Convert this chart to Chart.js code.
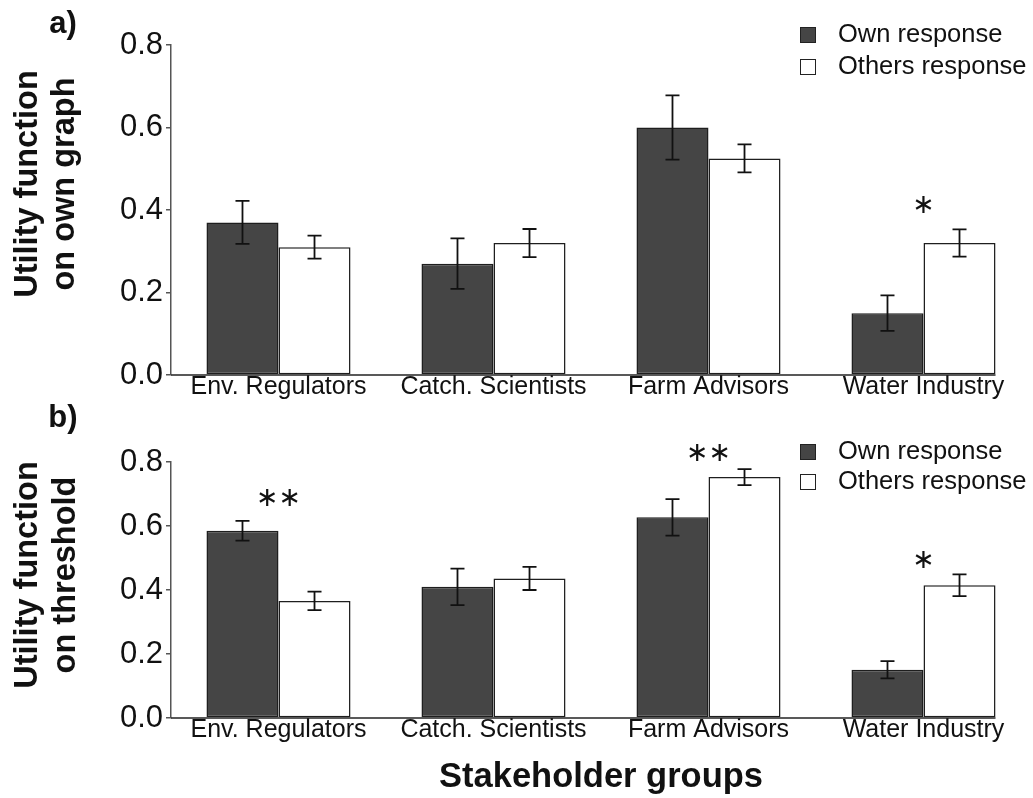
<!DOCTYPE html>
<html>
<head>
<meta charset="utf-8">
<script src="https://cdn.jsdelivr.net/npm/chart.js@4.4.1/dist/chart.umd.min.js"></script>
<style>
  html, body { margin: 0; padding: 0; background: #fff; }
  body { width: 1033px; height: 798px; overflow: hidden; position: relative; }
  .panel { position: absolute; left: 0; width: 1033px; }
</style>
</head>
<body>
<div class="panel" style="top:0;height:400px"><canvas id="chartA"></canvas></div>
<div class="panel" style="top:400px;height:398px"><canvas id="chartB"></canvas></div>
<script>
const groups = ['Env. Regulators', 'Catch. Scientists', 'Farm Advisors', 'Water Industry']
const seriesNames = ['Own response', 'Others response']
const yTicks = [0, 0.2, 0.4, 0.6, 0.8]

// a) utility function on own graph
const graphOwn = [0.37, 0.27, 0.60, 0.15]
const graphOwnErr = [0.052, 0.061, 0.078, 0.043]
const graphOthers = [0.31, 0.32, 0.525, 0.32]
const graphOthersErr = [0.028, 0.034, 0.034, 0.033]
const graphSig = ['', '', '', '*']
const graphSigY = [0, 0, 0, 0.41]

// b) utility function on threshold
const threshOwn = [0.585, 0.41, 0.627, 0.151]
const threshOwnErr = [0.031, 0.057, 0.057, 0.027]
const threshOthers = [0.366, 0.436, 0.753, 0.415]
const threshOthersErr = [0.029, 0.036, 0.025, 0.034]
const threshSig = ['**', '', '**', '*']
const threshSigY = [0.685, 0, 0.825, 0.49]

const FONT = 'Liberation Sans'
const INK = '#111'

function makePanel(id, p) {
    //draws error bars, stars, legend and the panel texts
    const extras = {
        id: 'extras',
        afterDatasetsDraw(chart) {
            const ctx = chart.ctx
            const x = chart.scales.x, y = chart.scales.y
            const area = chart.chartArea
            ctx.save()

            //x axis line stops at the last bar
            const last = chart.getDatasetMeta(1).data[groups.length - 1]
            const y0 = y.getPixelForValue(0)
            ctx.strokeStyle = '#222'
            ctx.lineWidth = 1.5
            ctx.beginPath()
            ctx.moveTo(area.left, y0)
            ctx.lineTo(last.x + last.width / 2, y0)
            ctx.stroke()

            //error bars
            ctx.strokeStyle = '#111'
            ctx.lineWidth = 1.8
            chart.data.datasets.forEach((ds, i) => {
                chart.getDatasetMeta(i).data.forEach((bar, j) => {
                    const top = y.getPixelForValue(ds.data[j] + ds.err[j])
                    const bot = y.getPixelForValue(ds.data[j] - ds.err[j])
                    ctx.beginPath()
                    ctx.moveTo(bar.x, top); ctx.lineTo(bar.x, bot)
                    ctx.moveTo(bar.x - 7, top); ctx.lineTo(bar.x + 7, top)
                    ctx.moveTo(bar.x - 7, bot); ctx.lineTo(bar.x + 7, bot)
                    ctx.stroke()
                })
            })

            //significance stars
            ctx.fillStyle = INK
            ctx.font = '27px "DejaVu Sans"'
            ctx.textAlign = 'center'
            ctx.textBaseline = 'middle'
            p.sig.forEach((s, j) => {
                if (!s) return
                ctx.fillText(s.replace(/\*/g, '\u2217'), x.getPixelForValue(j), y.getPixelForValue(p.sigY[j]))
            })

            //legend
            ctx.font = `25.5px "${FONT}"`
            ctx.textAlign = 'left'
            chart.data.datasets.forEach((ds, i) => {
                const ry = p.legendY[i]
                ctx.fillStyle = ds.backgroundColor
                ctx.fillRect(800, ry - 8, 16, 16)
                ctx.strokeStyle = '#222'
                ctx.lineWidth = 1
                ctx.strokeRect(800.5, ry - 7.5, 15, 15)
                ctx.fillStyle = INK
                ctx.fillText(ds.label, 838, ry)
            })

            //panel letter
            ctx.font = `bold 31px "${FONT}"`
            ctx.textAlign = 'center'
            ctx.fillText(p.letter, 63, p.letterY)

            //y axis title, two lines
            ctx.translate(0, p.titleY)
            ctx.rotate(-Math.PI / 2)
            ctx.font = `bold 32.5px "${FONT}"`
            p.yTitle.forEach((line, k) => ctx.fillText(line, 0, p.titleX[k]))
            ctx.restore()
        }
    }

    return new Chart(id, {
        type: 'bar',
        data: {
            labels: groups,
            datasets: [
                {label: seriesNames[0], data: p.own, err: p.ownErr, backgroundColor: '#454545', borderColor: '#1e1e1e', borderWidth: 1.5, borderSkipped: false},
                {label: seriesNames[1], data: p.others, err: p.othersErr, backgroundColor: '#ffffff', borderColor: '#1e1e1e', borderWidth: 1.5, borderSkipped: false}
            ]
        },
        options: {
            responsive: true,
            maintainAspectRatio: false,
            animation: false,
            datasets: {bar: {categoryPercentage: 0.67, barPercentage: 1}},
            layout: {padding: {top: p.top, right: 2, left: 0, bottom: 0}},
            scales: {
                x: {
                    grid: {display: false, drawTicks: false},
                    border: {display: false},
                    ticks: {color: INK, padding: 0, maxRotation: 0, autoSkip: false, font: {family: FONT, size: 25, lineHeight: 1}},
                    title: p.xTitle
                        ? {display: true, text: p.xTitle, color: INK, padding: {top: 0, bottom: 0}, font: {family: FONT, size: 34.5, weight: 'bold'}}
                        : {display: false},
                    afterFit: (s) => { s.height = p.xHeight }
                },
                y: {
                    min: 0,
                    max: 0.8,
                    afterBuildTicks: (s) => { s.ticks = yTicks.map(v => ({value: v})) },
                    ticks: {color: INK, padding: 3, callback: (v) => v.toFixed(1), font: {family: FONT, size: 31}},
                    grid: {drawOnChartArea: false, tickLength: 5, color: '#555', lineWidth: 1.5},
                    border: {color: '#555', width: 1.5},
                    afterFit: (s) => { s.width = 171 }
                }
            },
            plugins: {
                legend: {display: false},
                tooltip: {enabled: false}
            }
        },
        plugins: [extras]
    })
}

makePanel('chartA', {
    own: graphOwn, ownErr: graphOwnErr, others: graphOthers, othersErr: graphOthersErr,
    sig: graphSig, sigY: graphSigY,
    top: 45, xHeight: 25,
    legendY: [35, 67],
    letter: 'a)', letterY: 24,
    yTitle: ['Utility function', 'on own graph'], titleX: [28, 65], titleY: 184
})

makePanel('chartB', {
    own: threshOwn, ownErr: threshOwnErr, others: threshOthers, othersErr: threshOthersErr,
    sig: threshSig, sigY: threshSigY,
    top: 62, xHeight: 80, xTitle: 'Stakeholder groups',
    legendY: [52, 82],
    letter: 'b)', letterY: 18,
    yTitle: ['Utility function', 'on threshold'], titleX: [28, 66], titleY: 175
})
</script>
</body>
</html>
